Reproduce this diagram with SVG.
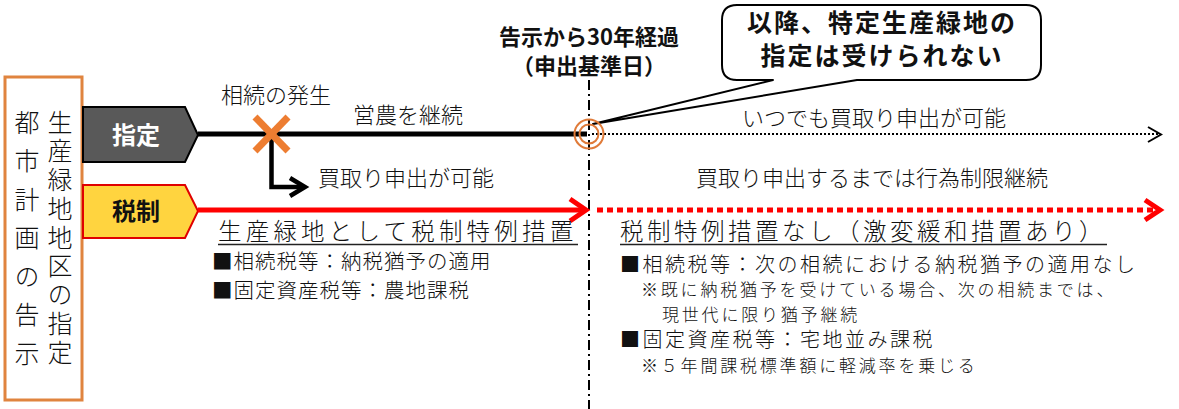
<svg xmlns="http://www.w3.org/2000/svg" width="1179" height="409" viewBox="0 0 1179 409">
<style>
text{font-family:"Noto Sans CJK JP","Noto Sans CJK SC",sans-serif;fill:#111;}
.thin{font-size:22px;font-weight:300;}
.body{font-weight:300;}
.bold{font-weight:700;}
.vt{writing-mode:vertical-rl;font-size:25px;font-weight:300;}
.ul{stroke:#222;stroke-width:1.5;}
.orange{stroke:#E07B39;fill:none;}
</style>
<rect width="1179" height="409" fill="#fff"/>

<g id="node-left-box">
<rect x="5" y="77" width="77" height="323" fill="#fff" stroke="#E0843F" stroke-width="3"/>
<text class="vt" x="27" y="109.5" style="letter-spacing:13.5px">都市計画の告示</text>
<text class="vt" x="60" y="109.5" style="letter-spacing:3.75px">生産緑地地区の指定</text>
</g>

<g id="node-shitei">
<polygon points="83,107 185,107 198,135 185,162 83,162" fill="#595959" stroke="#000" stroke-width="2"/>
<text class="bold" x="136" y="144" font-size="24" text-anchor="middle" style="fill:#fff">指定</text>
</g>

<g id="node-zeisei">
<polygon points="83,185 185,185 198,211 185,238 83,238" fill="#FFD43F" stroke="#E00000" stroke-width="2"/>
<text class="bold" x="136" y="220" font-size="24" text-anchor="middle">税制</text>
</g>

<g id="node-top-label">
<text class="bold" x="589" y="45" font-size="22" text-anchor="middle">告示から30年経過</text>
<text class="bold" x="589" y="74" font-size="22" text-anchor="middle">（申出基準日）</text>
</g>

<g id="node-callout">
<path d="M737 5 H1026 Q1041 5 1041 20 V65 Q1041 80 1026 80 H857 L593 124 L773 80 H737 Q722 80 722 65 V20 Q722 5 737 5 Z" fill="#fff" stroke="#000" stroke-width="2" stroke-linejoin="round"/>
<text class="bold" x="882" y="32" font-size="25" text-anchor="middle" style="letter-spacing:2px">以降、特定生産緑地の</text>
<text class="bold" x="882" y="65" font-size="25" text-anchor="middle" style="letter-spacing:2px">指定は受けられない</text>
</g>

<g id="connectors">
<line x1="589" y1="80" x2="589" y2="409" stroke="#000" stroke-width="2" stroke-dasharray="10 4 2 4"/>
<line x1="198" y1="134" x2="587" y2="134" stroke="#000" stroke-width="5"/>
<line x1="592" y1="134" x2="1160" y2="134" stroke="#000" stroke-width="2" stroke-dasharray="2 2"/>
<polyline points="1148,127 1161,134.5 1148,142" fill="none" stroke="#000" stroke-width="2"/>
<line x1="198" y1="210" x2="584" y2="210" stroke="#FF0000" stroke-width="5"/>
<polyline points="570,199 586,210 570,221" fill="none" stroke="#FF0000" stroke-width="5"/>
<line x1="597" y1="210" x2="1156" y2="210" stroke="#FF0000" stroke-width="5" stroke-dasharray="6 4"/>
<polyline points="1145,200 1160,210 1145,220" fill="none" stroke="#FF0000" stroke-width="5"/>
<path d="M271.5 136 V187 H303" fill="none" stroke="#000" stroke-width="4.5"/>
<polyline points="290,178 305,187 290,196" fill="none" stroke="#000" stroke-width="4.5"/>
<line x1="255" y1="117" x2="288" y2="151" stroke="#ED7D31" stroke-width="7"/>
<line x1="288" y1="117" x2="255" y2="151" stroke="#ED7D31" stroke-width="7"/>
<circle class="orange" cx="589" cy="134" r="14.5" stroke-width="2"/>
<circle class="orange" cx="589" cy="134" r="9.5" stroke-width="2"/>
</g>

<g id="labels">
<text class="thin" x="276" y="103" font-size="21" text-anchor="middle">相続の発生</text>
<text class="thin" x="408" y="123" text-anchor="middle">営農を継続</text>
<text class="thin" x="318" y="186">買取り申出が可能</text>
<text class="thin" x="742" y="126">いつでも買取り申出が可能</text>
<text class="thin" x="872" y="186" text-anchor="middle">買取り申出するまでは行為制限継続</text>
</g>

<g id="node-left-tax">
<text class="body" x="218" y="240" font-size="23.5" style="letter-spacing:4.2px">生産緑地として税制特例措置</text>
<line class="ul" x1="218" y1="244.5" x2="578" y2="244.5"/>
<text class="body" x="212" y="269" font-size="20.5" style="letter-spacing:1px">■相続税等：納税猶予の適用</text>
<text class="body" x="212" y="298" font-size="20.5" style="letter-spacing:1px">■固定資産税等：農地課税</text>
</g>

<g id="node-right-tax">
<text class="body" x="620" y="240" font-size="23.5" style="letter-spacing:3.5px">税制特例措置なし（激変緩和措置あり）</text>
<line class="ul" x1="620" y1="244.5" x2="1107" y2="244.5"/>
<text class="body" x="620" y="271.5" font-size="20" style="letter-spacing:2.5px">■相続税等：次の相続における納税猶予の適用なし</text>
<text class="body" x="641" y="296" font-size="17" style="letter-spacing:2.8px">※既に納税猶予を受けている場合、次の相続までは、</text>
<text class="body" x="662" y="321" font-size="17" style="letter-spacing:2.8px">現世代に限り猶予継続</text>
<text class="body" x="620" y="347" font-size="20" style="letter-spacing:2.5px">■固定資産税等：宅地並み課税</text>
<text class="body" x="641" y="372" font-size="17" style="letter-spacing:2.8px">※５年間課税標準額に軽減率を乗じる</text>
</g>
</svg>
